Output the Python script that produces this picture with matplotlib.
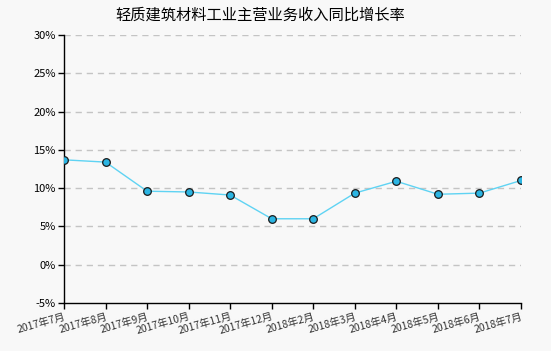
import numpy as np
import matplotlib.pyplot as plt

plt.rcParams['font.family'] = ['Noto Sans CJK SC', 'DejaVu Sans']

# Data
months = ['2017年7月', '2017年8月', '2017年9月', '2017年10月', '2017年11月', '2017年12月',
          '2018年2月', '2018年3月', '2018年4月', '2018年5月', '2018年6月', '2018年7月']
growth = [13.7, 13.4, 9.6, 9.5, 9.1, 6.0, 6.0, 9.35, 10.9, 9.2, 9.35, 11.0]
yticks = [-5, 0, 5, 10, 15, 20, 25, 30]

bg = '#f8f8f8'
fig = plt.figure(figsize=(5.51, 3.51), dpi=100, facecolor=bg)
ax = fig.add_axes([64 / 551, 1 - 303 / 351, (521 - 64) / 551, (303 - 35) / 351])
ax.set_facecolor(bg)

x = np.arange(len(months))
ax.plot(x, growth, color='#5fd3f3', lw=1, zorder=3)
ax.plot(x, growth, 'o', ms=5.5, mfc='#2bb5e3', mec='#1a1a1a', mew=0.9, zorder=4)

ax.set_xlim(0, len(months) - 1)
ax.set_ylim(-5, 30)
ax.set_yticks(yticks)
ax.set_yticklabels([f'{v}%' for v in yticks], fontsize=8)
ax.set_xticks(x)
ax.set_xticklabels(months, fontsize=7.5, rotation=16, ha='right', rotation_mode='anchor',
                   color='#333333')

for v in yticks[1:]:
    ax.axhline(v, color='#c4c4c4', lw=1, ls=(0, (4.5, 3.5)), zorder=1)

for s in ['top', 'right']:
    ax.spines[s].set_visible(False)
ax.spines['left'].set_linewidth(1)
ax.spines['bottom'].set_linewidth(1)
ax.tick_params(axis='both', length=4, width=1, pad=2)

fig.text(260 / 551, 1 - 15 / 351, '轻质建筑材料工业主营业务收入同比增长率',
         ha='center', va='center', fontsize=11)

plt.savefig('out.png', dpi=100, facecolor=bg)
